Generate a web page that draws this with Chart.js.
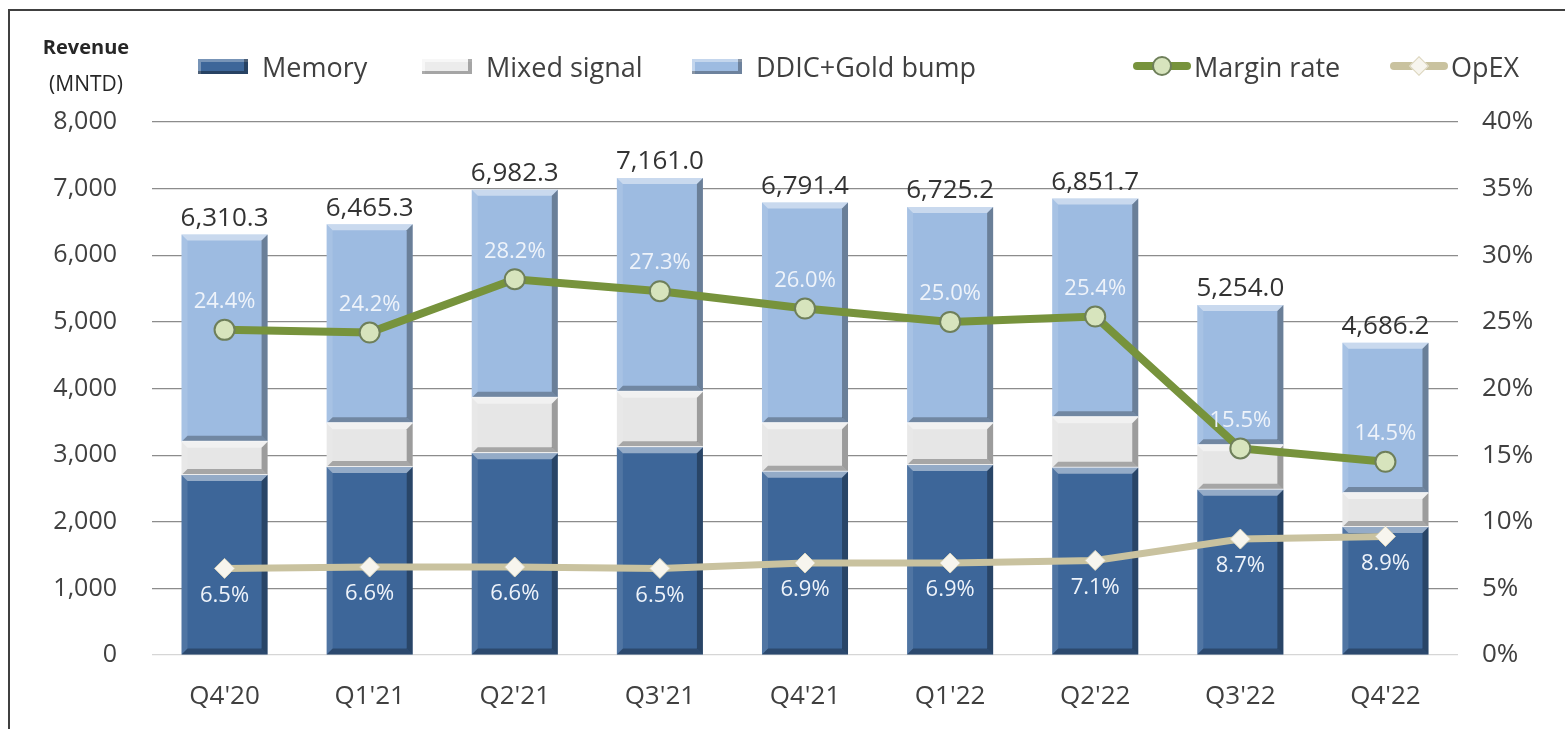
<!DOCTYPE html>
<html>
<head>
<meta charset="utf-8">
<script src="https://cdn.jsdelivr.net/npm/chart.js@4.4.1/dist/chart.umd.min.js"></script>
<style>
  body { margin: 0; background: #fff; font-family: 'Open Sans', sans-serif; }
  #wrap { position: relative; width: 1565px; height: 729px; overflow: hidden; }
  #frame { position: absolute; left: 8px; top: 9px; right: -10px; bottom: -10px;
           border-left: 2px solid #404040; border-top: 2px solid #404040; }
  canvas { position: absolute; left: 0; top: 0; }
  .unit { position: absolute; left: 30px; top: 29px; width: 112px; font-size: 20px; line-height: 36px;
          color: #262626; text-align: center; }
  .unit span { font-size: 21px; }
  .leg { position: absolute; top: 50px; height: 32px; display: flex; align-items: center;
         font-size: 27px; color: #404040; white-space: nowrap; }
  .box { width: 50px; height: 15px; margin-right: 14px; box-sizing: border-box; }
  .line { position: relative; width: 58px; height: 24px; margin-right: 3px; }
  .line .bar { position: absolute; left: 0; right: 0; top: 8px; height: 8px; border-radius: 4px; }
  .line .dot { position: absolute; left: 19px; top: 2px; width: 20px; height: 20px; border-radius: 50%;
               box-sizing: border-box; background: #d7e4bd; border: 2px solid #6e7f5a; }
  .line .dia { position: absolute; left: 22px; top: 5px; width: 14px; height: 14px; transform: rotate(45deg);
               background: #f7f5ee; border: 1px solid #ddd7bf; box-sizing: border-box; }
</style>
</head>
<body>
<div id="wrap">
  <div id="frame"></div>
  <canvas id="revChart" width="1565" height="729"></canvas>
  <div class="unit"><b>Revenue</b><br><span>(MNTD)</span></div>
  <div class="leg" style="left:198px"><div class="box" style="background:#3d6699;box-shadow:inset -4px -3px 0 rgba(0,0,0,.35), inset 3px 3px 0 rgba(255,255,255,.3)"></div>Memory</div>
  <div class="leg" style="left:422px"><div class="box" style="background:#ececec;box-shadow:inset -4px -3px 0 rgba(0,0,0,.3), inset 3px 3px 0 rgba(255,255,255,.6)"></div>Mixed signal</div>
  <div class="leg" style="left:692px"><div class="box" style="background:#9dbbe1;box-shadow:inset -4px -3px 0 rgba(0,0,0,.3), inset 3px 3px 0 rgba(255,255,255,.4)"></div>DDIC+Gold bump</div>
  <div class="leg" style="left:1133px"><div class="line"><div class="bar" style="background:#77933c"></div><div class="dot"></div></div>Margin rate</div>
  <div class="leg" style="left:1390px"><div class="line"><div class="bar" style="background:#c9c29f"></div><div class="dia"></div></div>OpEX</div>
</div>
<script>
let quarters = ["Q4'20", "Q1'21", "Q2'21", "Q3'21", "Q4'21", "Q1'22", "Q2'22", "Q3'22", "Q4'22"];
let memory = [2700, 2820, 3030, 3120, 2750, 2850, 2810, 2480, 1920];
let mixedSignal = [500, 660, 830, 830, 730, 630, 760, 670, 510];
let ddicGoldBump = [3110.3, 2985.3, 3122.3, 3211.0, 3311.4, 3245.2, 3281.7, 2104.0, 2256.2];
let revenueTotal = [6310.3, 6465.3, 6982.3, 7161.0, 6791.4, 6725.2, 6851.7, 5254.0, 4686.2];
let marginRate = [24.4, 24.2, 28.2, 27.3, 26.0, 25.0, 25.4, 15.5, 14.5];
let opex = [6.5, 6.6, 6.6, 6.5, 6.9, 6.9, 7.1, 8.7, 8.9];

const ctx = document.getElementById('revChart').getContext('2d');
const FONT = "'Open Sans', sans-serif";

// bevel look on the bars, drawn right after each bar dataset
const bevelPlugin = {
    id: 'bevel',
    afterDatasetDraw(chart, args) {
        const meta = args.meta;
        if (meta.type !== 'bar') return;
        const c = chart.ctx;
        c.save();
        meta.data.forEach(bar => {
            const p = bar.getProps(['x', 'y', 'base', 'width'], true);
            const l = p.x - p.width / 2, r = p.x + p.width / 2;
            const t = Math.min(p.y, p.base), b = Math.max(p.y, p.base);
            const s = 6;
            const poly = (pts, fill) => {
                c.beginPath();
                c.moveTo(pts[0][0], pts[0][1]);
                pts.slice(1).forEach(q => c.lineTo(q[0], q[1]));
                c.closePath();
                c.fillStyle = fill;
                c.fill();
            };
            poly([[l, t], [r, t], [r - s, t + s], [l + s, t + s]], 'rgba(255,255,255,0.45)');
            poly([[l, t], [l + s, t + s], [l + s, b - s], [l, b]], 'rgba(255,255,255,0.10)');
            poly([[r, t], [r - s, t + s], [r - s, b - s], [r, b]], 'rgba(0,0,0,0.32)');
            poly([[l, b], [l + s, b - s], [r - s, b - s], [r, b]], 'rgba(0,0,0,0.28)');
            if (args.index > 0) {
                c.fillStyle = 'rgba(255,255,255,0.9)';
                c.fillRect(l, b - 1, p.width, 2);
            }
        });
        c.restore();
    }
};

// value labels: totals above bars, rates near the line points
const labelPlugin = {
    id: 'labels',
    afterDraw(chart) {
        const c = chart.ctx;
        c.save();
        c.textAlign = 'center';
        c.textBaseline = 'middle';
        const top = chart.getDatasetMeta(2).data;
        c.font = '26px ' + FONT;
        c.fillStyle = '#333333';
        top.forEach((bar, i) => {
            const txt = revenueTotal[i].toLocaleString('en-US', { minimumFractionDigits: 1, maximumFractionDigits: 1 });
            c.fillText(txt, bar.x, bar.y - 16);
        });
        c.font = '22px ' + FONT;
        c.fillStyle = '#eef3fa';
        chart.getDatasetMeta(3).data.forEach((pt, i) => {
            c.fillText(marginRate[i].toFixed(1) + '%', pt.x, pt.y - 28);
        });
        chart.getDatasetMeta(4).data.forEach((pt, i) => {
            c.fillText(opex[i].toFixed(1) + '%', pt.x, pt.y + 27);
        });
        c.restore();
    }
};

const chart = new Chart(ctx, {
    type: 'bar',
    data: {
        labels: quarters,
        datasets: [
            { label: 'Memory', data: memory, backgroundColor: '#3d6699', stack: 'rev', order: 3, yAxisID: 'y' },
            { label: 'Mixed signal', data: mixedSignal, backgroundColor: '#e6e6e6', stack: 'rev', order: 3, yAxisID: 'y' },
            { label: 'DDIC+Gold bump', data: ddicGoldBump, backgroundColor: '#9dbbe1', stack: 'rev', order: 3, yAxisID: 'y' },
            {
                type: 'line', label: 'Margin rate', data: marginRate, yAxisID: 'y1', order: 1,
                borderColor: '#77933c', borderWidth: 8, tension: 0,
                pointStyle: 'circle', pointRadius: 10, pointBackgroundColor: '#d7e4bd',
                pointBorderColor: '#6e7f5a', pointBorderWidth: 2
            },
            {
                type: 'line', label: 'OpEX', data: opex, yAxisID: 'y1', order: 2,
                borderColor: '#c9c29f', borderWidth: 7, tension: 0,
                pointStyle: 'rectRot', pointRadius: 10, pointBackgroundColor: '#f7f5ee',
                pointBorderColor: '#ddd7bf', pointBorderWidth: 1
            }
        ]
    },
    options: {
        responsive: false,
        animation: false,
        layout: { padding: { top: 122, left: 0, right: 0, bottom: 0 } },
        plugins: {
            legend: { display: false },
            tooltip: { enabled: false }
        },
        datasets: { bar: { barPercentage: 0.593, categoryPercentage: 1 } },
        scales: {
            x: {
                stacked: true,
                grid: { display: false, drawTicks: false },
                border: { display: false },
                ticks: { padding: 26, color: '#404040', font: { family: FONT, size: 26 } },
                afterFit: s => { s.height = 74; }
            },
            y: {
                stacked: true,
                position: 'left',
                min: 0, max: 8000,
                ticks: {
                    stepSize: 1000, padding: 35, color: '#404040',
                    font: { family: FONT, size: 25 },
                    callback: v => v.toLocaleString('en-US')
                },
                grid: {
                    drawTicks: false,
                    color: c => c.tick.value === 0 ? '#d6d6d6' : '#8c8c8c',
                    lineWidth: 1.2
                },
                border: { display: false },
                afterFit: s => { s.width = 152; }
            },
            y1: {
                position: 'right',
                min: 0, max: 40,
                ticks: {
                    stepSize: 5, padding: 24, color: '#404040',
                    font: { family: FONT, size: 26 },
                    callback: v => v + '%'
                },
                grid: { display: false, drawTicks: false },
                border: { display: false },
                afterFit: s => { s.width = 107; }
            }
        }
    },
    plugins: [bevelPlugin, labelPlugin]
});
</script>
</body>
</html>
